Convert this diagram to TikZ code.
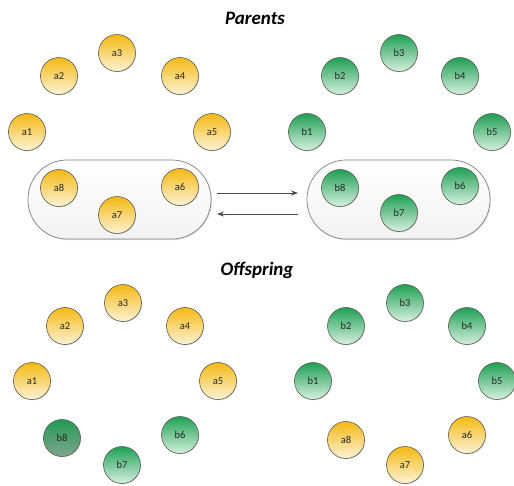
\documentclass[tikz,border=0pt]{standalone}
\usepackage{fontspec}
\setmainfont{Carlito}
\usetikzlibrary{shadows,arrows.meta}
\definecolor{goldtop}{HTML}{F5B914}
\definecolor{goldbot}{HTML}{FCF3D6}
\definecolor{greentop}{HTML}{1FA055}
\definecolor{greenbot}{HTML}{D6F0DE}
\definecolor{darkgtop}{HTML}{229A55}
\definecolor{darkgbot}{HTML}{7FA58E}
\definecolor{ringline}{HTML}{5A5A50}
\tikzset{
  x=1pt, y=-1pt,
  gene/.style={circle, minimum size=37pt, inner sep=0pt, draw=ringline, line width=0.6pt,
    font=\fontsize{10.5}{11}\selectfont, text=black!85,
    drop shadow={shadow xshift=0.8pt, shadow yshift=-0.8pt, opacity=0.25}},
  ga/.style={gene, top color=goldtop, bottom color=goldbot},
  gb/.style={gene, top color=greentop, bottom color=greenbot},
  gbdark/.style={gene, top color=darkgtop, bottom color=darkgbot},
  pill/.style={rounded corners=39pt, draw=black!50, line width=0.7pt,
    top color=white, bottom color=black!5,
    drop shadow={shadow xshift=1pt, shadow yshift=-1pt, opacity=0.25}},
  title/.style={font=\fontsize{19}{20}\selectfont\bfseries\itshape},
  swap/.style={-{Stealth[length=7pt,width=5pt]}, draw=black!70, line width=0.7pt}
}
\begin{document}
\begin{tikzpicture}
\useasboundingbox (0,0) rectangle (514,485);

% parents
\node[title] (tp) at (255,18) {Parents};
\draw[pill] (28,160) rectangle (211,239);
\draw[pill] (307,160) rectangle (490,239);

\node[ga] (pa1) at (27,132) {a1};
\node[ga] (pa2) at (59,76) {a2};
\node[ga] (pa3) at (117,53) {a3};
\node[ga] (pa4) at (180,76) {a4};
\node[ga] (pa5) at (212,132) {a5};
\node[ga] (pa6) at (180,187) {a6};
\node[ga] (pa7) at (117,215) {a7};
\node[ga] (pa8) at (59,188) {a8};

\node[gb] (pb1) at (307,132) {b1};
\node[gb] (pb2) at (340,76) {b2};
\node[gb] (pb3) at (399,53) {b3};
\node[gb] (pb4) at (460,76) {b4};
\node[gb] (pb5) at (492,132) {b5};
\node[gb] (pb6) at (460,186) {b6};
\node[gb] (pb7) at (399,213) {b7};
\node[gb] (pb8) at (340,188) {b8};

% exchange arrows between the two parents
\coordinate (ar1) at (217,193);
\coordinate (ar2) at (298,193);
\coordinate (al1) at (298,214);
\coordinate (al2) at (217,214);
\draw[swap] (ar1) -- (ar2);
\draw[swap] (al1) -- (al2);

% offspring
\node[title] (to) at (257,270) {Offspring};

\node[ga] (oa1) at (32,381) {a1};
\node[ga] (oa2) at (65,326) {a2};
\node[ga] (oa3) at (123,303) {a3};
\node[ga] (oa4) at (185,326) {a4};
\node[ga] (oa5) at (218,381) {a5};
\node[gb] (ob6) at (180,435) {b6};
\node[gb] (ob7) at (122,465) {b7};
\node[gbdark] (ob8) at (62,438) {b8};

\node[gb] (ob1) at (313,381) {b1};
\node[gb] (ob2) at (346,326) {b2};
\node[gb] (ob3) at (405,303) {b3};
\node[gb] (ob4) at (467,326) {b4};
\node[gb] (ob5) at (497,381) {b5};
\node[ga] (oa6) at (467,435) {a6};
\node[ga] (oa7) at (405,465) {a7};
\node[ga] (oa8) at (346,440) {a8};
\end{tikzpicture}
\end{document}
